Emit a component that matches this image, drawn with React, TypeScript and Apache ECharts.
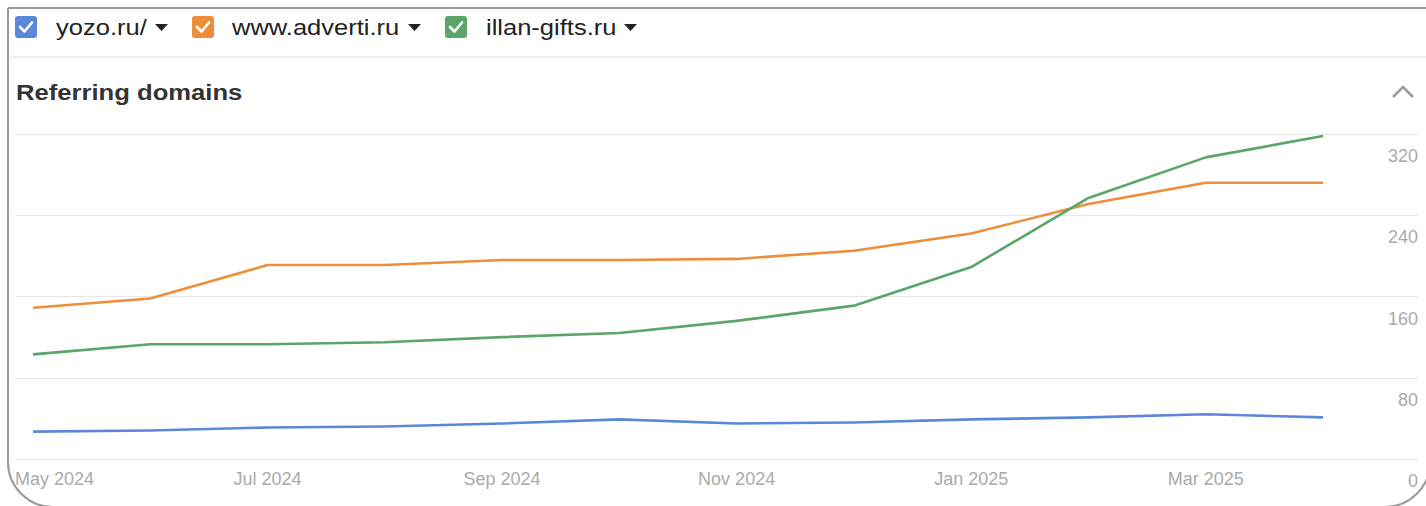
import React, { useEffect, useRef } from 'react';
import * as echarts from 'echarts';

const months = ['May 2024', 'Jun 2024', 'Jul 2024', 'Aug 2024', 'Sep 2024', 'Oct 2024', 'Nov 2024', 'Dec 2024', 'Jan 2025', 'Feb 2025', 'Mar 2025', 'Apr 2025'];
const labeledMonthIndexes = [2, 4, 6, 8, 10];
const yTicks = [0, 80, 160, 240, 320];
const seriesNames = ['yozo.ru/', 'www.adverti.ru', 'illan-gifts.ru'];
const seriesColors = ['#5a88d8', '#ee8d3a', '#5ba56a'];
const yozo = [27, 28, 31, 32, 35, 39, 35, 36, 39, 41, 44, 41];
const adverti = [149, 158, 191, 191, 196, 196, 197, 205, 222, 251, 272, 272];
const illan = [103, 113, 113, 115, 120, 124, 136, 151, 189, 257, 297, 318];
const seriesValues = [yozo, adverti, illan];

const FONT = '"Liberation Sans", Arial, sans-serif';
const X_MIN = -0.1535;
const X_MAX = 11.81;

function legendItem(x: number, textX: number, triX: number, name: string, color: string) {
  return [
    { type: 'rect', shape: { x, y: 16, width: 22, height: 22, r: 3 }, style: { fill: color } },
    {
      type: 'polyline',
      shape: { points: [[x + 5, 27], [x + 9.5, 31.5], [x + 17, 22.5]] },
      style: { stroke: '#fff', lineWidth: 2.6, fill: null, lineCap: 'round', lineJoin: 'round' },
    },
    {
      type: 'text', x: textX, y: 27, scaleX: 1.16,
      style: { text: name, fontSize: 22, fontFamily: FONT, fill: '#222', verticalAlign: 'middle', align: 'left' },
    },
    { type: 'polygon', shape: { points: [[triX, 24], [triX + 13, 24], [triX + 6.5, 31]] }, style: { fill: '#222' } },
  ];
}

export default function App() {
  const ref = useRef<HTMLDivElement>(null);
  useEffect(() => {
    document.body.style.margin = '0';
    const chart = echarts.init(ref.current!, null, { renderer: 'svg' });
    const option: any = {
      animation: false,
      backgroundColor: '#fff',
      grid: { left: 15, right: 8, top: 134, bottom: 47, containLabel: false },
      xAxis: {
        type: 'value',
        min: X_MIN,
        max: X_MAX,
        splitLine: { show: false },
        axisLine: { show: false },
        axisTick: { show: false },
        axisLabel: {
          customValues: [X_MIN, ...labeledMonthIndexes],
          formatter: (v: number) => months[Math.max(0, Math.round(v))],
          alignMinLabel: 'left',
          margin: 11,
          fontSize: 18,
          fontFamily: FONT,
          color: '#aaaaaa',
        },
      },
      yAxis: {
        type: 'value',
        position: 'right',
        min: yTicks[0],
        max: yTicks[yTicks.length - 1],
        interval: 80,
        axisLine: { show: false },
        axisTick: { show: false },
        splitLine: { lineStyle: { color: '#e6e6e6', width: 1 } },
        axisLabel: {
          inside: true,
          margin: 0,
          verticalAlign: 'top',
          padding: [13, 0, 0, 0],
          fontSize: 18,
          fontFamily: FONT,
          color: '#aaaaaa',
        },
      },
      series: seriesValues.map((vals, si) => ({
        type: 'line',
        name: seriesNames[si],
        data: vals.map((v, i) => [i, v]),
        showSymbol: false,
        symbol: 'none',
        lineStyle: { color: seriesColors[si], width: 2.6, join: 'round' },
        itemStyle: { color: seriesColors[si] },
        z: 3,
      })),
      graphic: [
        {
          type: 'rect',
          shape: { x: 8, y: 8, width: 1422, height: 499, r: [0, 0, 45, 45] },
          style: { fill: null, stroke: '#9a9a9a', lineWidth: 2 },
          silent: true,
        },
        { type: 'line', shape: { x1: 9, y1: 57, x2: 1426, y2: 57 }, style: { stroke: '#e8e8e8', lineWidth: 1.5 } },
        ...legendItem(15, 56, 155, seriesNames[0], seriesColors[0]),
        ...legendItem(192, 232, 408, seriesNames[1], seriesColors[1]),
        ...legendItem(445, 486, 624, seriesNames[2], seriesColors[2]),
        {
          type: 'text',
          x: 16,
          y: 92,
          scaleX: 1.165,
          style: { text: 'Referring domains', fontSize: 22, fontWeight: 'bold', fontFamily: FONT, fill: '#333', verticalAlign: 'middle', align: 'left' },
        },
        {
          type: 'polyline',
          shape: { points: [[1393, 97], [1403, 87], [1413, 97]] },
          style: { stroke: '#9a9a9a', lineWidth: 2.5, fill: null },
        },
      ],
    };
    chart.setOption(option);
    return () => chart.dispose();
  }, []);
  return <div ref={ref} style={{ width: 1426, height: 506 }} />;
}
